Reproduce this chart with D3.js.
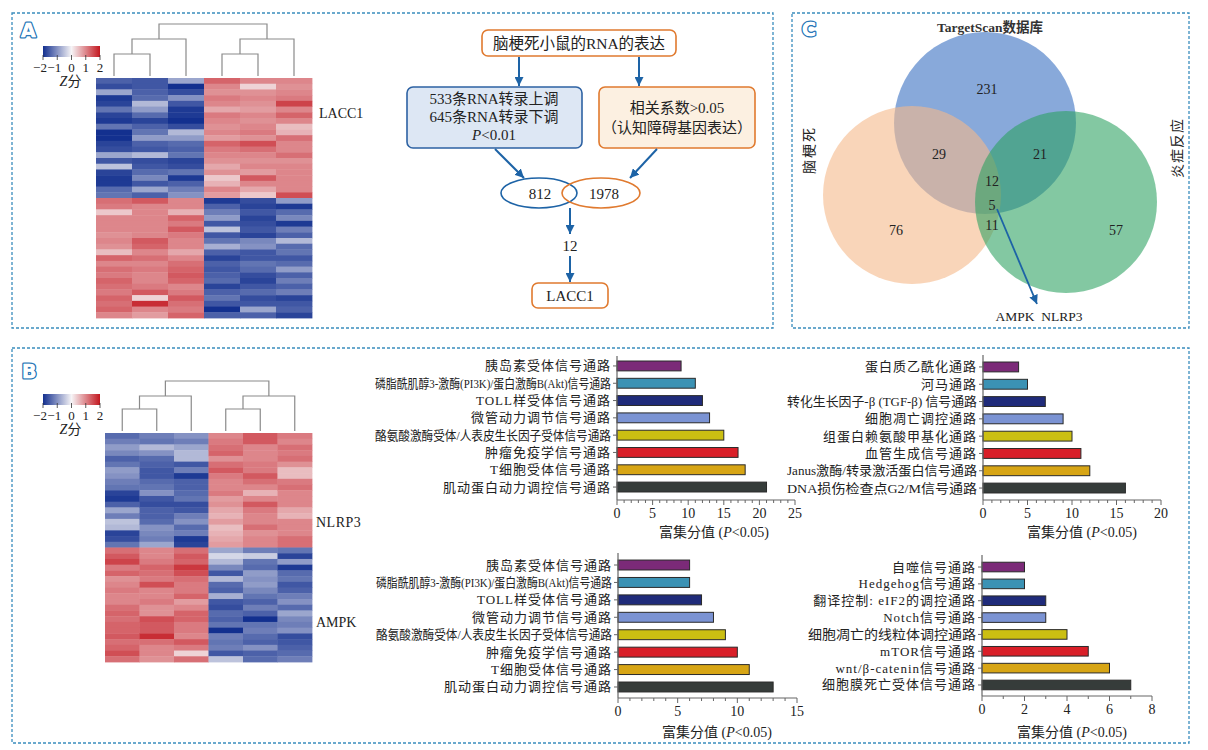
<!DOCTYPE html>
<html><head><meta charset="utf-8">
<script src="https://cdn.jsdelivr.net/npm/d3@7"></script>
<style>
body{margin:0;background:#fff;}
svg text{font-family:"Liberation Serif","Noto Sans CJK SC",serif;fill:#222;}
</style></head><body>
<svg id="fig" width="1208" height="750"></svg>
<script>
// ---------------- DATA ----------------
const legendTicks = [-2,-1,0,1,2];
// heatmap A (LACC1): 6 samples (columns), 42 genes (21 up / 21 down)
const heatA_cols = [
 [-1.5,-1.7,-0.8,-1.9,-1.8,-1.3,-1.8,-1.9,-1.3,-2.0,-2.0,-1.8,-1.7,-0.8,-1.6,-0.5,-1.8,-1.9,-1.9,-1.4,-1.3,
   1.2,1.1,0.4,1.0,1.0,1.0,0.9,1.0,0.9,0.5,1.3,1.0,1.2,1.1,1.3,1.2,1.1,1.3,1.2,1.3,1.0],
 [-1.6,-1.6,-1.5,-1.4,-0.6,-0.9,-1.4,-1.8,-1.5,-1.3,-0.9,-1.5,-1.6,-0.6,-1.7,-1.6,-1.4,-1.1,-1.6,-0.8,-1.5,
   1.4,1.0,1.0,1.0,1.0,1.0,1.0,1.4,1.3,1.0,1.2,1.0,1.1,1.0,1.0,1.1,1.4,0.3,1.8,1.0,0.8],
 [-0.8,-2.0,-1.7,-1.0,-1.6,-1.9,-1.9,-2.0,-1.7,-0.6,-0.9,-1.4,-1.5,-1.3,-1.8,-1.7,-1.3,-1.9,-1.5,-1.2,-1.0,
   1.0,1.0,0.6,1.3,1.1,1.4,1.1,1.0,1.0,0.7,1.0,1.2,1.3,1.4,1.3,1.0,1.1,1.4,1.2,1.1,1.3],
 [1.3,1.0,0.9,1.1,1.0,0.7,1.1,1.0,0.9,1.0,0.8,1.3,1.1,1.0,0.9,0.7,0.9,0.4,0.6,1.0,0.8,
  -1.9,-1.5,-1.2,-0.9,-1.6,-0.5,-1.6,-1.3,-0.7,-1.5,-1.8,-1.5,-1.6,-1.5,-1.4,-1.8,-1.5,-1.3,-1.6,-2.0,-1.5],
 [1.0,0.3,0.9,1.0,0.9,0.8,1.0,0.9,1.0,1.1,0.9,1.5,1.2,1.0,0.9,1.0,0.8,1.4,1.0,0.7,0.4,
  -1.7,-1.8,-1.6,-1.8,-1.7,-1.6,-1.8,-1.1,-1.0,-1.6,-1.6,-1.3,-1.4,-1.7,-1.8,-1.6,-1.4,-1.7,-1.6,-0.8,-1.5],
 [1.0,0.9,1.0,1.1,1.6,1.0,1.3,1.0,0.5,0.6,1.2,1.0,1.0,1.2,0.9,1.0,1.0,1.0,1.0,1.0,1.5,
  -0.9,-1.9,-1.4,-1.1,-1.9,-1.2,-1.5,-0.6,-1.4,-1.3,-1.6,-1.4,-0.9,-1.5,-1.2,-1.5,-1.2,-1.8,-1.6,-1.5,-1.8]
];
// heatmap B (NLRP3 / AMPK): 6 samples, 40 genes
const heatB_cols = [
 [-1.4,-1.2,-0.9,-1.1,-1.5,-1.3,-0.9,-1.0,-1.2,-1.3,-1.8,-1.9,-1.5,-0.8,-1.2,-0.5,-0.6,-1.8,-1.7,-1.3,
   1.2,1.4,1.6,1.1,1.3,0.9,1.0,1.1,1.0,1.0,1.2,1.3,1.2,1.3,1.3,1.4,1.2,1.3,1.5,1.2],
 [-1.2,-1.3,-0.6,-1.0,-1.4,-1.5,-1.6,-1.6,-1.4,-1.3,-1.0,-1.6,-1.7,-1.5,-1.5,-1.4,-1.0,-1.1,-1.2,-0.8,
   1.0,1.0,1.1,1.3,1.2,1.1,1.5,1.0,1.0,1.1,0.9,0.9,1.5,1.4,1.4,1.8,1.2,1.0,1.0,0.9],
 [-1.0,-1.2,-0.8,-0.6,-0.6,-1.6,-1.2,-1.9,-1.5,-1.5,-1.4,-1.3,-1.7,-1.6,-1.2,-1.0,-1.4,-1.2,-1.9,-1.8,
   1.2,1.4,1.3,1.7,1.5,1.2,1.1,1.1,1.3,0.8,1.0,1.3,1.3,1.1,1.1,1.0,1.4,1.1,0.3,1.2],
 [1.0,1.1,1.2,1.3,0.9,1.2,1.4,1.1,1.0,1.0,1.1,0.8,0.9,0.7,0.6,0.8,0.5,0.6,0.7,0.8,
  -0.8,-0.3,-0.6,-1.1,-1.6,-0.6,-1.4,-1.5,-0.7,-1.6,-1.7,-1.4,-1.5,-1.3,-2.0,-1.2,-1.3,-1.2,-1.6,-0.5],
 [1.4,1.4,1.0,1.0,1.0,1.1,1.1,1.4,1.2,1.0,0.6,1.0,1.4,1.1,1.0,1.0,1.2,0.9,1.0,1.0,
  -1.2,-0.4,-1.3,-1.4,-0.9,-1.0,-0.9,-1.1,-1.3,-1.5,-1.2,-1.5,-2.0,-1.3,-1.2,-1.4,-1.5,-1.0,-1.5,-1.4],
 [1.1,1.0,1.2,1.1,1.2,0.9,0.5,0.5,1.1,1.2,1.0,1.0,1.0,0.7,0.6,1.0,1.0,1.0,1.2,1.2,
  -1.3,-1.8,-0.9,-1.9,-1.4,-1.3,-1.6,-1.5,-1.2,-1.0,-1.4,-0.8,-1.1,-1.2,-1.0,-1.7,-1.6,-1.5,-1.4,-1.2]
];
// flowchart numbers
const flowTop = "脑梗死小鼠的RNA的表达";
const flowLeftLines = ["533条RNA转录上调","645条RNA转录下调"];
const flowRightLines = ["相关系数>0.05","（认知障碍基因表达）"];
const flowCounts = [812, 1978, 12];
const flowResult = "LACC1";
// venn
const vennSets = ["TargetScan数据库","脑梗死","炎症反应"];
const vennCounts = [231, 29, 21, 12, 5, 11, 76, 57];
const vennGenes = "AMPK  NLRP3";
// enrichment bar charts
const barColors = ["#7b2a78","#3b92b4","#1f2b7a","#7b93d3","#cbbf12","#d91f28","#d7a515","#363c3a"];
const labels1 = ["胰岛素受体信号通路","磷脂酰肌醇3-激酶(PI3K)/蛋白激酶B(Akt)信号通路","TOLL样受体信号通路","微管动力调节信号通路","酪氨酸激酶受体/人表皮生长因子受体信号通路","肿瘤免疫学信号通路","T细胞受体信号通路","肌动蛋白动力调控信号通路"];
const values1 = [9, 11, 12, 13, 15, 17, 18, 21];
const labels2 = ["蛋白质乙酰化通路","河马通路","转化生长因子-β (TGF-β) 信号通路","细胞凋亡调控通路","组蛋白赖氨酸甲基化通路","血管生成信号通路","Janus激酶/转录激活蛋白信号通路","DNA损伤检查点G2/M信号通路"];
const values2 = [4, 5, 7, 9, 10, 11, 12, 16];
const labels3 = ["胰岛素受体信号通路","磷脂酰肌醇3-激酶(PI3K)/蛋白激酶B(Akt)信号通路","TOLL样受体信号通路","微管动力调节信号通路","酪氨酸激酶受体/人表皮生长因子受体信号通路","肿瘤免疫学信号通路","T细胞受体信号通路","肌动蛋白动力调控信号通路"];
const values3 = [6, 6, 7, 8, 9, 10, 11, 13];
const labels4 = ["自噬信号通路","Hedgehog信号通路","翻译控制: eIF2的调控通路","Notch信号通路","细胞凋亡的线粒体调控通路","mTOR信号通路","wnt/β-catenin信号通路","细胞膜死亡受体信号通路"];
const values4 = [2, 2, 3, 3, 4, 5, 6, 7];

// ---------------- DRAWING ----------------
const svg = d3.select("#fig");
const BLUE = "#1d63a6", ORANGE = "#e07a2f", FRAME = "#3a8dbd";
const heatColor = d3.scaleLinear().domain([-2,0,2]).range(["#13308f","#f6f4f6","#c3171f"]).clamp(true);

const defs = svg.append("defs");
defs.append("marker").attr("id","arr").attr("viewBox","0 0 10 10").attr("refX",10).attr("refY",5)
  .attr("markerWidth",9).attr("markerHeight",9).attr("markerUnits","userSpaceOnUse").attr("orient","auto")
  .append("path").attr("d","M0,0 L10,5 L0,10 z").attr("fill",BLUE);
const grad = defs.append("linearGradient").attr("id","zgrad");
legendTicks.forEach((t,i)=>grad.append("stop").attr("offset",(i/(legendTicks.length-1)*100)+"%").attr("stop-color",heatColor(t)));

// frames
[[12,13,761,315],[792,13,397,315],[12,348,1177,395]].forEach(r=>{
  svg.append("rect").attr("x",r[0]).attr("y",r[1]).attr("width",r[2]).attr("height",r[3])
    .attr("fill","none").attr("stroke",FRAME).attr("stroke-width",1.3).attr("stroke-dasharray","3,2");
});
// panel letters
[["A",21,37],["B",22,378],["C",802,36]].forEach(p=>{
  svg.append("text").attr("x",p[1]).attr("y",p[2]).text(p[0])
    .style("font-family","DejaVu Sans").style("font-weight","bold").style("font-size","19px")
    .style("fill","#fff").style("stroke","#2a78b8").style("stroke-width","3.2px").style("stroke-linejoin","round").style("paint-order","stroke");
  svg.append("text").attr("x",p[1]).attr("y",p[2]).text(p[0])
    .style("font-family","DejaVu Sans").style("font-weight","bold").style("font-size","19px")
    .style("fill","#fff").style("stroke","#fff").style("stroke-width","0.3px");
});

function legend(x0,x1,y0,h){
  const g = svg.append("g");
  const s = d3.scaleLinear().domain([-2,2]).range([x0,x1]);
  g.append("rect").attr("x",x0).attr("y",y0).attr("width",x1-x0).attr("height",h).attr("fill","url(#zgrad)");
  legendTicks.forEach(t=>{
    g.append("line").attr("x1",s(t)).attr("x2",s(t)).attr("y1",y0+h-2).attr("y2",y0+h+3).attr("stroke","#333").attr("stroke-width",0.8);
    g.append("text").attr("x",s(t)-(t<0?3:0)).attr("y",y0+h+15).attr("text-anchor","middle").style("font-size","13px").text(t<0?"−"+(-t):t);
  });
  const zt = g.append("text").attr("x",(x0+x1)/2-1).attr("y",y0+h+29).attr("text-anchor","middle").style("font-size","14px");
  zt.append("tspan").style("font-style","italic").text("Z");
  zt.append("tspan").text("分");
}

function heatmap(cols,x0,x1,y0,y1,dy){
  const nR = cols[0].length;
  const x = d3.scaleBand().domain(d3.range(cols.length)).range([x0,x1]);
  const y = d3.scaleBand().domain(d3.range(nR)).range([y0,y1]);
  const cells = cols.flatMap((c,i)=>c.map((v,j)=>({i,j,v})));
  svg.append("g").selectAll("rect").data(cells).join("rect")
    .attr("x",d=>x(d.i)).attr("y",d=>y(d.j)).attr("width",x.bandwidth()+0.4).attr("height",y.bandwidth()+0.4)
    .attr("fill",d=>heatColor(d.v));
  // dendrogram
  const c = d3.range(cols.length).map(i=>x(i)+x.bandwidth()/2);
  const [yLeaf,yIn,yMid,yRoot] = dy;
  const g = svg.append("g").attr("fill","none").attr("stroke","#8a8a8a").attr("stroke-width",1.2);
  const link=(xa,ya,xb,yb,yj)=>g.append("path").attr("d",`M${xa},${ya}V${yj}H${xb}V${yb}`);
  const l1=(c[0]+c[1])/2, r1=(c[3]+c[4])/2, l2=(l1+c[2])/2, r2=(r1+c[5])/2;
  link(c[0],yLeaf,c[1],yLeaf,yIn); link(c[3],yLeaf,c[4],yLeaf,yIn);
  link(l1,yIn,c[2],yLeaf,yMid); link(r1,yIn,c[5],yLeaf,yMid);
  link(l2,yMid,r2,yMid,yRoot);
}

// Panel A heatmap
legend(43,100,46,11);
heatmap(heatA_cols,96,312,78,318,[76,54,39,24]);
svg.append("text").attr("x",319).attr("y",118).style("font-size","14px").text("LACC1");
// Panel B heatmap
legend(43,100,394,11);
heatmap(heatB_cols,105,312,433,662,[431,409,396,381]);
svg.append("text").attr("x",316).attr("y",527).style("font-size","14px").style("letter-spacing","0.5px").text("NLRP3");
svg.append("text").attr("x",316).attr("y",627).style("font-size","14px").text("AMPK");

// ---------------- Flowchart ----------------
const fc = svg.append("g");
function box(x,y,w,h,fill,stroke){
  fc.append("rect").attr("x",x).attr("y",y).attr("width",w).attr("height",h).attr("rx",6)
    .attr("fill",fill).attr("stroke",stroke).attr("stroke-width",1.6);
}
function arrow(x1,y1,x2,y2){
  fc.append("line").attr("x1",x1).attr("y1",y1).attr("x2",x2).attr("y2",y2)
    .attr("stroke",BLUE).attr("stroke-width",2).attr("marker-end","url(#arr)");
}
function ctext(x,y,t,size){
  return fc.append("text").attr("x",x).attr("y",y).attr("text-anchor","middle").attr("dominant-baseline","central")
    .style("font-size",(size||15)+"px").text(t);
}
box(482,30,194,26,"#fff",ORANGE);
ctext(579,43,flowTop,15.5);
arrow(519,57,519,86); arrow(639,57,639,86);
box(407,87,175,61,"#dde7f4","#2d62a3");
ctext(494,99,flowLeftLines[0]); ctext(494,117,flowLeftLines[1]);
const pt = ctext(494,135,"");
pt.append("tspan").style("font-style","italic").text("P"); pt.append("tspan").text("<0.01");
box(599,87,156,61,"#fcf0e1",ORANGE);
ctext(677,108,flowRightLines[0]); ctext(677,128,flowRightLines[1]);
arrow(495,149,524,178); arrow(657,149,630,178);
fc.append("ellipse").attr("cx",539).attr("cy",193).attr("rx",38).attr("ry",15).attr("fill","none").attr("stroke","#1d63a6").attr("stroke-width",1.6);
fc.append("ellipse").attr("cx",601).attr("cy",193).attr("rx",39).attr("ry",15).attr("fill","none").attr("stroke",ORANGE).attr("stroke-width",1.6);
ctext(540,194,flowCounts[0]); ctext(604,194,flowCounts[1]);
arrow(570,208,570,234);
ctext(570,246,flowCounts[2]);
arrow(570,256,570,282);
box(532,283,76,25,"#fff",ORANGE);
ctext(570,296,flowResult);

// ---------------- Venn ----------------
const vg = svg.append("g");
vg.append("circle").attr("cx",985).attr("cy",123).attr("r",91).attr("fill","#3f74c4").attr("fill-opacity",0.62);
vg.append("circle").attr("cx",912).attr("cy",195).attr("r",89).attr("fill","#f5b98a").attr("fill-opacity",0.6);
vg.append("circle").attr("cx",1066).attr("cy",202).attr("r",91).attr("fill","#2aa15e").attr("fill-opacity",0.58);
const vpos = [[987,89],[939,154],[1040,154],[992,181],[992,205],[992,225],[896,230],[1116,230]];
vennCounts.forEach((v,i)=>{
  vg.append("text").attr("x",vpos[i][0]).attr("y",vpos[i][1]).attr("text-anchor","middle").attr("dominant-baseline","central")
    .style("font-size","14px").text(v);
});
vg.append("text").attr("x",990).attr("y",27).attr("text-anchor","middle").attr("dominant-baseline","central")
  .style("font-size","13.5px").style("font-weight","bold").style("fill","#333").text(vennSets[0]);
vg.append("text").attr("transform","translate(809,150) rotate(-90)").attr("text-anchor","middle").attr("dominant-baseline","central")
  .style("font-size","14px").style("letter-spacing","2px").text(vennSets[1]);
vg.append("text").attr("transform","translate(1177,148) rotate(-90)").attr("text-anchor","middle").attr("dominant-baseline","central")
  .style("font-size","14px").style("letter-spacing","1px").text(vennSets[2]);
vg.append("line").attr("x1",997).attr("y1",209).attr("x2",1037).attr("y2",304)
  .attr("stroke",BLUE).attr("stroke-width",1.8).attr("marker-end","url(#arr)");
vg.append("text").attr("x",1039).attr("y",316).attr("text-anchor","middle").attr("dominant-baseline","central")
  .style("font-size","13.5px").style("white-space","pre").attr("xml:space","preserve").text(vennGenes);

// ---------------- Bar charts ----------------
function barChart(cfg){
  const g = svg.append("g");
  const x = d3.scaleLinear().domain([0,cfg.max]).range([cfg.x0,cfg.x1]);
  const y = d3.scaleBand().domain(cfg.labels).range([cfg.yTop,cfg.yBot]).paddingInner(0.43).paddingOuter(0.215);
  const data = cfg.labels.map((l,i)=>({l,v:cfg.values[i],c:barColors[i]}));
  g.selectAll("rect").data(data).join("rect")
    .attr("x",x(0)).attr("y",d=>y(d.l)).attr("width",d=>x(d.v)-x(0)).attr("height",y.bandwidth())
    .attr("fill",d=>d.c).attr("stroke","#2a2a2a").attr("stroke-width",1);
  // y axis
  g.append("line").attr("x1",cfg.x0).attr("x2",cfg.x0).attr("y1",cfg.axisTop).attr("y2",cfg.axisY).attr("stroke","#666").attr("stroke-width",1.2);
  data.forEach(d=>{
    const yc = y(d.l)+y.bandwidth()/2;
    g.append("line").attr("x1",cfg.x0-4).attr("x2",cfg.x0).attr("y1",yc).attr("y2",yc).attr("stroke","#666");
    const t = g.append("text").attr("x",cfg.x0-6).attr("y",yc).attr("text-anchor","end").attr("dominant-baseline","central")
      .style("font-size","13px").style("letter-spacing","1px").text(d.l);
    const w = t.node().getComputedTextLength();
    if (w > cfg.maxW){
      t.style("letter-spacing","0px").attr("textLength",cfg.maxW).attr("lengthAdjust","spacingAndGlyphs");
    }
  });
  // x axis
  g.append("line").attr("x1",cfg.x0).attr("x2",cfg.x1).attr("y1",cfg.axisY).attr("y2",cfg.axisY).attr("stroke","#666").attr("stroke-width",1.2);
  d3.range(0,cfg.max+0.001,cfg.minor).forEach(v=>{
    const major = Math.abs(v/cfg.step - Math.round(v/cfg.step))<1e-6;
    g.append("line").attr("x1",x(v)).attr("x2",x(v)).attr("y1",cfg.axisY).attr("y2",cfg.axisY+(major?5:3)).attr("stroke","#666");
    if(major) g.append("text").attr("x",x(v)).attr("y",cfg.axisY+18).attr("text-anchor","middle").style("font-size","14px").text(v);
  });
  const tt = g.append("text").attr("x",cfg.titleX).attr("y",cfg.titleY).attr("text-anchor","middle").style("font-size","14px");
  tt.append("tspan").text("富集分值 (");
  tt.append("tspan").style("font-style","italic").text("P");
  tt.append("tspan").text("<0.05)");
}
barChart({labels:labels1,values:values1,max:25,step:5,minor:1,x0:617,x1:795,yTop:357.3,yBot:495.7,axisTop:356,axisY:500,maxW:236,titleX:714,titleY:537});
barChart({labels:labels2,values:values2,max:20,step:5,minor:1,x0:983,x1:1161,yTop:358.3,yBot:496.7,axisTop:355,axisY:500,maxW:190,titleX:1082,titleY:537});
barChart({labels:labels3,values:values3,max:15,step:5,minor:1,x0:618,x1:797,yTop:556.3,yBot:695.7,axisTop:553,axisY:698,maxW:236,titleX:717,titleY:737});
barChart({labels:labels4,values:values4,max:8,step:2,minor:1,x0:982,x1:1152,yTop:558.6,yBot:693.4,axisTop:555,axisY:696,maxW:168,titleX:1072,titleY:737});
</script>
</body></html>
